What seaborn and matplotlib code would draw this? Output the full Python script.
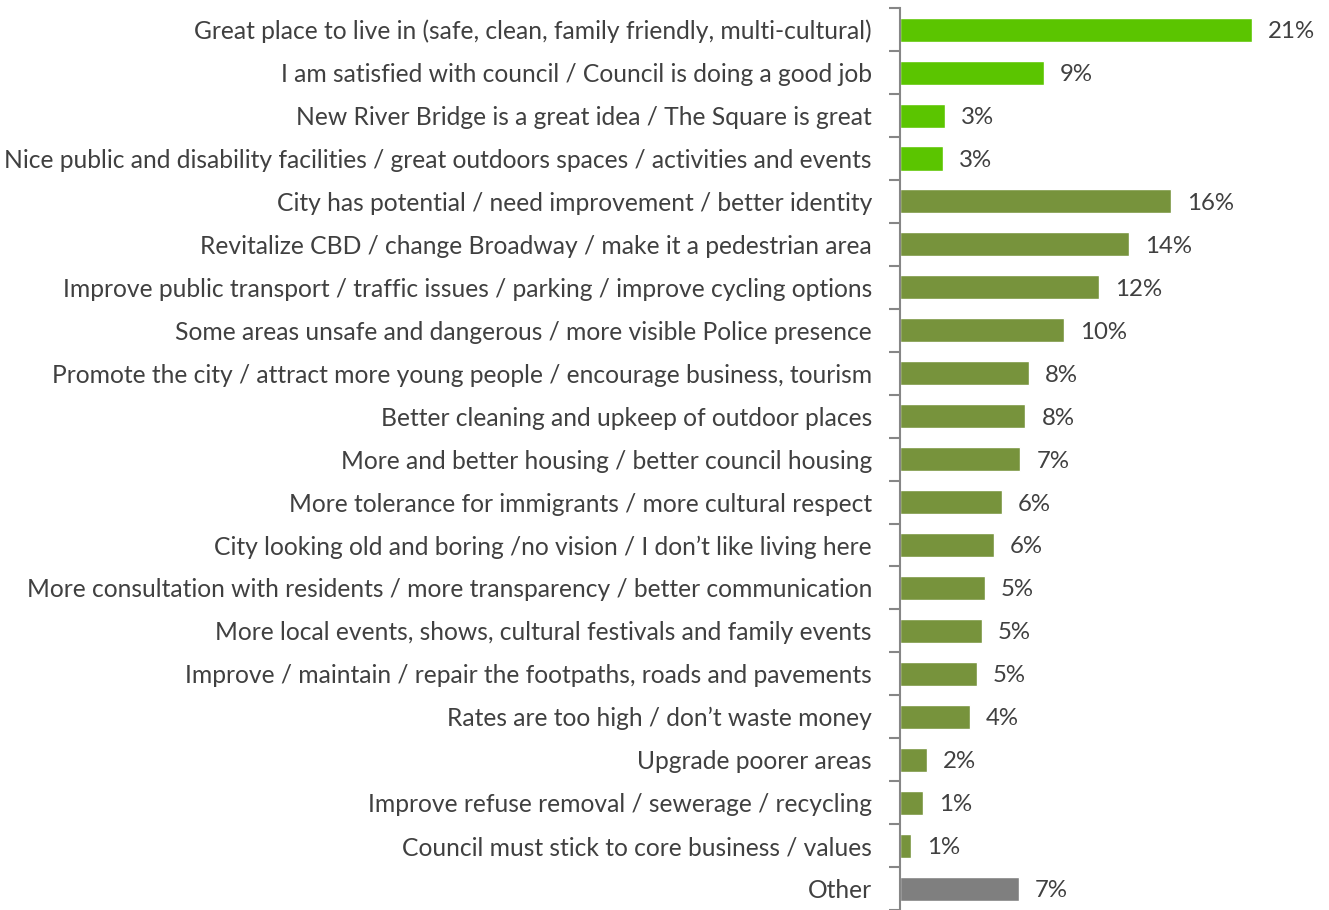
import matplotlib
matplotlib.use("Agg")
import matplotlib.pyplot as plt
import seaborn as sns
import pandas as pd

categories = [
    "Great place to live in (safe, clean, family friendly, multi-cultural)",
    "I am satisfied with council / Council is doing a good job",
    "New River Bridge is a great idea / The Square is great",
    "Nice public and disability facilities / great outdoors spaces / activities and events",
    "City has potential / need improvement / better identity",
    "Revitalize CBD / change Broadway / make it a pedestrian area",
    "Improve public transport / traffic issues / parking / improve cycling options",
    "Some areas unsafe and dangerous / more visible Police presence",
    "Promote the city / attract more young people / encourage business, tourism",
    "Better cleaning and upkeep of outdoor places",
    "More and better housing / better council housing",
    "More tolerance for immigrants / more cultural respect",
    "City looking old and boring /no vision / I don\u2019t like living here",
    "More consultation with residents / more transparency / better communication",
    "More local events, shows, cultural festivals and family events",
    "Improve / maintain / repair the footpaths, roads and pavements",
    "Rates are too high / don\u2019t waste money",
    "Upgrade poorer areas",
    "Improve refuse removal / sewerage / recycling",
    "Council must stick to core business / values",
    "Other",
]
values = [21.0, 8.6, 2.7, 2.6, 16.2, 13.7, 11.9, 9.8, 7.7, 7.5, 7.2, 6.1, 5.6,
          5.1, 4.9, 4.6, 4.2, 1.6, 1.4, 0.7, 7.1]
shown = ["21%", "9%", "3%", "3%", "16%", "14%", "12%", "10%", "8%", "8%", "7%",
         "6%", "6%", "5%", "5%", "5%", "4%", "2%", "1%", "1%", "7%"]
group = ["positive"] * 4 + ["improve"] * 16 + ["other"]

df = pd.DataFrame({"category": categories, "value": values, "group": group})
palette = {"positive": "#5BC500", "improve": "#77933C", "other": "#7F7F7F"}

sns.set_style("white")
plt.rcParams["font.family"] = ["Lato", "DejaVu Sans"]

fig = plt.figure(figsize=(13.29, 9.1), dpi=100)
ax = fig.add_axes([0.677, 0.0, 0.323, 0.991])

sns.barplot(data=df, x="value", y="category", hue="group", palette=palette,
            dodge=False, legend=False, width=0.56, ax=ax, saturation=1)

for i, (v, s) in enumerate(zip(values, shown)):
    ax.text(v + 0.95, i, s, va="center_baseline", ha="left", fontsize=17.3,
            color="#404040")

ax.set_xlim(0, 25.6)
ax.set_ylim(len(categories) - 0.5, -0.5)
ax.set_xlabel("")
ax.set_ylabel("")
ax.set_xticks([])
ax.set_yticks([i - 0.5 for i in range(len(categories) + 1)], minor=False)
ax.set_yticklabels([])
ax.set_yticks(range(len(categories)), minor=True)
ax.set_yticklabels(categories, minor=True, fontsize=17.7, color="#404040",
                   va="center_baseline")
ax.tick_params(axis="y", which="major", length=8, width=1.5, color="#868686", left=True)
ax.tick_params(axis="y", which="minor", length=0, pad=20)

for side in ["top", "right", "bottom"]:
    ax.spines[side].set_visible(False)
ax.spines["left"].set_color("#868686")
ax.spines["left"].set_linewidth(1.5)

fig.savefig("out.png", dpi=100)
